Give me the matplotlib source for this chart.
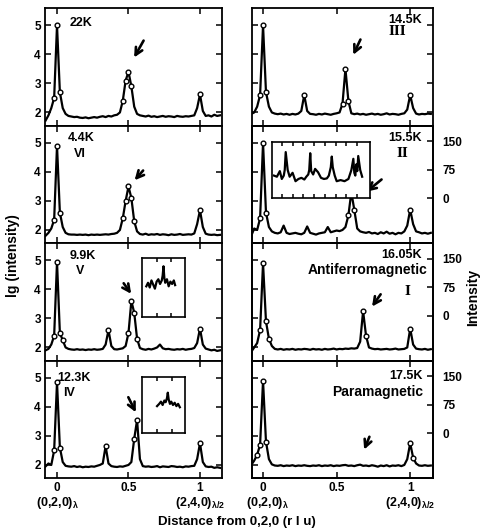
import matplotlib.pyplot as plt
from matplotlib.transforms import blended_transform_factory

plt.rcParams["font.family"] = ["Liberation Sans", "DejaVu Sans"]
plt.rcParams["font.weight"] = "bold"
plt.rcParams["mathtext.default"] = "regular"

# scan positions, distance from (0,2,0) in r.l.u.
dist = [-0.08, -0.06, -0.04, -0.02, 0.00, 0.02, 0.04, 0.06, 0.08, 0.10,
        0.12, 0.14, 0.16, 0.18, 0.20, 0.22, 0.24, 0.26, 0.28, 0.30,
        0.32, 0.34, 0.36, 0.38, 0.40, 0.42, 0.44, 0.46, 0.48, 0.50,
        0.52, 0.54, 0.56, 0.58, 0.60, 0.62, 0.64, 0.66, 0.68, 0.70,
        0.72, 0.74, 0.76, 0.78, 0.80, 0.82, 0.84, 0.86, 0.88, 0.90,
        0.92, 0.94, 0.96, 0.98, 1.00, 1.02, 1.04, 1.06, 1.08, 1.10,
        1.12, 1.14]

# lg(intensity) at each temperature
lg_22 = [1.72, 1.9, 2.15, 2.5, 5.0, 2.7, 2.15, 1.95, 1.88, 1.86,
         1.84, 1.85, 1.82, 1.81, 1.83, 1.8, 1.82, 1.84, 1.82, 1.85,
         1.87, 1.84, 1.88, 1.86, 1.9, 1.92, 2.0, 2.4, 3.1, 3.4,
         2.9, 2.2, 1.95, 1.9, 1.88, 1.86, 1.89, 1.85, 1.87, 1.84,
         1.86, 1.88, 1.85, 1.87, 1.86, 1.84, 1.88, 1.86, 1.85, 1.87,
         1.86, 1.88, 1.9, 2.15, 2.62, 2.05, 1.88, 1.9, 1.86, 1.92,
         1.88, 1.9]
lg_44 = [1.8, 1.9, 2.05, 2.35, 4.9, 2.6, 2.1, 1.9, 1.85, 1.84,
         1.84, 1.83, 1.84, 1.83, 1.84, 1.82, 1.84, 1.83, 1.84, 1.83,
         1.84, 1.85, 1.84, 1.86, 1.87, 1.9, 2.0, 2.4, 3.0, 3.5,
         3.1, 2.3, 1.95, 1.86, 1.84, 1.87, 1.83, 1.85, 1.84, 1.86,
         1.83, 1.85, 1.84, 1.82, 1.85, 1.83, 1.84, 1.86, 1.83, 1.84,
         1.85, 1.84, 1.88, 2.2, 2.68, 2.1, 1.87, 1.84, 1.83, 1.84,
         1.82, 1.83]
lg_99 = [1.9, 1.95, 2.1, 2.4, 4.95, 2.5, 2.25, 2.0, 1.95, 1.93,
         1.92, 1.94, 1.92, 1.93, 1.91, 1.93, 1.92, 1.94, 1.92, 1.93,
         1.95, 2.1, 2.6, 2.05, 1.94, 1.93, 1.95, 1.97, 2.05, 2.5,
         3.6, 3.2, 2.3, 1.98, 1.94, 1.92, 1.95, 1.93, 1.96, 2.0,
         2.1, 1.97, 1.94, 1.95, 1.93, 1.92, 1.94, 1.93, 1.95, 1.92,
         1.94, 1.95, 1.98, 2.15, 2.65, 2.1, 1.96, 1.93, 1.9, 1.92,
         1.88, 1.9]
lg_123 = [1.95, 2.05, 2.0, 2.5, 4.85, 2.6, 2.1, 1.97, 1.95, 1.94,
          1.96, 1.93, 1.95, 1.92, 1.94, 1.93, 1.95, 1.94, 1.97, 2.0,
          2.05, 2.65, 2.05, 1.96, 1.94, 1.93, 1.95, 1.94, 1.97, 2.0,
          2.1, 2.9, 3.55, 2.2, 1.96, 1.94, 1.95, 1.93, 1.94, 1.96,
          1.92, 1.95, 1.94, 1.93, 1.96, 1.95, 1.93, 1.94, 1.92, 1.95,
          1.94, 1.96, 1.97, 2.2, 2.75, 2.1, 1.95, 1.93, 1.94, 1.9,
          1.92, 1.9]
lg_145 = [1.95, 2.0, 2.2, 2.6, 5.0, 2.7, 2.2, 2.0, 1.96, 1.94,
          1.96, 1.93, 1.95, 1.92, 1.95, 1.93, 1.96, 2.05, 2.6, 2.05,
          1.95, 1.94, 1.92, 1.95, 1.93, 1.96, 1.94, 1.92, 1.95, 1.97,
          2.0, 2.3, 3.5, 2.4, 1.97, 1.94, 1.96, 1.93, 1.95, 1.92,
          1.94, 1.96, 1.93, 1.95, 1.92, 1.94, 1.97, 1.93, 1.95, 1.94,
          1.92, 1.95, 1.97, 2.1, 2.6, 2.15, 1.96, 1.93, 1.95, 1.94,
          1.96, 1.95]
lg_155 = [1.8, 2.05, 2.0, 2.4, 5.0, 2.6, 2.1, 1.95, 1.9, 1.88,
          1.92, 2.15, 1.9, 1.86, 1.88, 1.9, 1.87, 1.85, 1.9, 2.12,
          1.9, 1.87, 1.84, 1.88, 1.9, 1.92, 2.1, 1.92, 1.95, 1.98,
          1.96, 2.0, 2.1, 2.5, 3.3, 2.7, 2.05, 1.95, 1.92, 1.9,
          1.93, 1.88, 1.9, 1.86, 1.92, 1.88, 1.94, 1.87, 1.9, 1.85,
          1.9, 1.88, 1.95, 2.15, 2.7, 2.2, 1.95, 1.92, 1.88, 1.9,
          1.87, 1.9]
lg_1605 = [1.85, 2.0, 2.15, 2.6, 4.9, 2.9, 2.3, 2.05, 1.95, 1.93,
           1.95, 1.92, 1.94, 1.93, 1.95, 1.92, 1.94, 1.93, 1.95, 1.94,
           1.92, 1.95, 1.93, 1.94, 1.92, 1.95, 1.93, 1.94, 1.96, 1.93,
           1.95, 1.94, 1.96, 1.95, 1.97, 1.96, 1.98, 2.2, 3.25, 2.4,
           2.0, 1.96, 1.94, 1.95, 1.93, 1.94, 1.95, 1.93, 1.94, 1.96,
           1.93, 1.94, 1.95, 2.0, 2.65, 2.1, 1.96, 1.94, 1.93, 1.95,
           1.92, 1.94]
lg_175 = [2.0, 2.15, 2.35, 2.7, 4.9, 2.8, 2.2, 2.02, 1.98, 1.97,
          1.99, 1.96, 1.98, 1.97, 1.99, 1.96, 1.98, 1.97, 1.99, 1.97,
          1.96, 1.98, 1.97, 1.99, 1.96, 1.98, 1.97, 1.99, 1.96, 1.98,
          1.97, 1.99, 2.0, 1.97, 1.98, 1.96, 1.99, 2.01, 1.97, 1.98,
          1.96, 1.99, 1.97, 1.94, 1.98, 1.96, 1.99, 1.95, 1.98, 1.97,
          1.99, 1.96, 2.0, 2.2, 2.75, 2.25, 2.05, 1.98, 1.97, 1.99,
          1.97, 1.98]

# linear-scale close-ups of the magnetic peaks (counts)
ins99_x = [10, 14, 18, 22, 26, 30, 34, 38, 42, 46, 48, 50, 52, 54, 58, 62, 66, 70, 74, 77]
ins99_y = [52, 58, 50, 62, 55, 48, 60, 64, 56, 62, 70, 86, 66, 58, 64, 52, 60, 56, 62, 54]
ins123_x = [35, 40, 44, 48, 52, 55, 58, 60, 62, 65, 68, 72, 76, 80, 84, 88]
ins123_y = [48, 52, 56, 50, 58, 55, 62, 72, 60, 52, 56, 50, 54, 48, 52, 46]
ins155_x = [2, 5, 8, 10, 12, 13, 14, 16, 18, 21, 24, 27, 30, 33, 35, 37, 38, 39, 40, 42,
            44, 47, 50, 53, 56, 58, 60, 61, 62, 64, 66, 70, 74, 78, 81, 83, 84, 85, 86, 87,
            88, 90, 92]
ins155_y = [40, 38, 48, 34, 40, 50, 82, 50, 38, 45, 30, 34, 36, 33, 38, 42, 50, 80, 48, 42,
            52, 46, 36, 34, 35, 40, 55, 74, 55, 40, 30, 32, 30, 34, 50, 70, 45, 40, 60, 48,
            75, 50, 38]

left_temps = ["22K", "4.4K", "9.9K", "12.3K"]
left_phases = ["", "VI", "V", "IV"]
right_temps = ["14.5K", "15.5K", "16.05K", "17.5K"]
right_phases = ["III", "II", "I", ""]
left_scans = [lg_22, lg_44, lg_99, lg_123]
right_scans = [lg_145, lg_155, lg_1605, lg_175]
lin_ticks = [0, 75, 150]
lin_labels = ["0", "75", "150"]

W, H = 480, 532
fig = plt.figure(figsize=(W / 100, H / 100), dpi=100)


def px_axes(x0, y0, x1, y1):
    return fig.add_axes([x0 / W, 1 - y1 / H, (x1 - x0) / W, (y1 - y0) / H])


def style(ax, lw=1.3):
    for s in ax.spines.values():
        s.set_linewidth(lw)


def draw_scan(ax, lg):
    ax.plot(dist, lg, color="k", lw=1.6, solid_joinstyle="round")
    pk = [(d, v) for d, v in zip(dist, lg) if v > 2.2]
    ax.plot([p[0] for p in pk], [p[1] for p in pk], "o", ms=3.4,
            mfc="white", mec="k", mew=1.0)


def inset(x0, y0, x1, y1, xs, ys, ticks):
    ia = px_axes(x0, y0, x1, y1)
    ia.plot(xs, ys, color="k", lw=1.6)
    ia.set_xlim(0, 100)
    ia.set_ylim(0, 100)
    ia.set_xticks(ticks)
    ia.set_yticks([])
    ia.tick_params(direction="in", length=3, width=1.1, top=True,
                   labelbottom=False)
    style(ia, 1.2)
    return ia


row_h = 117.5
top0 = 8
arrows_left = [((0.615, 4.56), (0.53, 3.81)), ((0.615, 4.12), (0.53, 3.64)),
               ((0.455, 4.29), (0.53, 3.77)), ((0.49, 4.42), (0.56, 3.73))]
arrows_right = [((0.67, 4.6), (0.605, 3.9)), ((0.82, 3.8), (0.69, 3.26)),
                ((0.81, 3.91), (0.73, 3.33)), ((0.73, 3.06), (0.68, 2.44))]
arrow_kw = dict(arrowstyle="->", lw=1.9, color="k", mutation_scale=13)

for i in range(4):
    y0 = top0 + row_h * i
    y1 = y0 + row_h
    last = i == 3

    # left column
    ax = px_axes(45, y0, 222, y1)
    draw_scan(ax, left_scans[i])
    ax.set_xlim(-0.084, 1.154)
    ax.set_ylim(1.55, 5.6)
    ax.set_yticks([2, 3, 4, 5])
    ax.set_xticks([0, 0.5, 1])
    ax.set_xticklabels(["0", "0.5", "1"])
    ax.tick_params(direction="in", length=4, width=1.1, top=True, right=True,
                   labelsize=8.5, labelbottom=last, pad=3)
    style(ax)
    ax.annotate("", xy=arrows_left[i][1], xytext=arrows_left[i][0],
                arrowprops=arrow_kw)
    tx = [0.14, 0.13, 0.14, 0.07][i]
    ty = [0.875, 0.89, 0.89, 0.85][i]
    ax.text(tx, ty, left_temps[i], transform=ax.transAxes, fontsize=9,
            va="center", ha="left")
    if left_phases[i]:
        ax.text(tx + 0.035, ty - 0.13, left_phases[i], transform=ax.transAxes,
                fontsize=9, va="center", ha="left")
    if last:
        tr = blended_transform_factory(ax.transData, ax.transAxes)
        ax.text(0, -0.21, r"(0,2,0)$_\lambda$", transform=tr, fontsize=9,
                ha="center", va="center")
        ax.text(1, -0.21, r"(2,4,0)$_{\lambda/2}$", transform=tr, fontsize=9,
                ha="center", va="center")

    # right column
    ax = px_axes(252, y0, 433, y1)
    draw_scan(ax, right_scans[i])
    ax.set_xlim(-0.075, 1.155)
    ax.set_ylim(1.55, 5.6)
    ax.set_yticks([2, 3, 4, 5])
    ax.set_xticks([0, 0.5, 1])
    ax.set_xticklabels(["0", "0.5", "1"])
    ax.tick_params(direction="in", length=4, width=1.1, top=True,
                   right=(i == 0), labelleft=False, labelsize=8.5,
                   labelbottom=last, pad=3)
    style(ax)
    if i > 0:
        tw = ax.twinx()
        tw.set_ylim(-118, 191)
        tw.set_yticks(lin_ticks)
        tw.set_yticklabels(lin_labels)
        tw.tick_params(direction="in", length=4, width=1.1, labelsize=8.5,
                       pad=7)
        style(tw)
    ax.annotate("", xy=arrows_right[i][1], xytext=arrows_right[i][0],
                arrowprops=arrow_kw)
    ax.text(0.94, 0.895 if i < 3 else 0.87, right_temps[i],
            transform=ax.transAxes, fontsize=9, va="center", ha="right")
    if i == 2:
        ax.text(0.967, 0.77, "Antiferromagnetic", transform=ax.transAxes,
                fontsize=10, va="center", ha="right")
        ax.text(0.857, 0.59, "I", transform=ax.transAxes, fontsize=9,
                va="center", ha="center", family="DejaVu Serif")
    elif i == 3:
        ax.text(0.945, 0.73, "Paramagnetic", transform=ax.transAxes,
                fontsize=10, va="center", ha="right")
    else:
        ax.text([0.8, 0.83][i], [0.8, 0.76][i], right_phases[i],
                transform=ax.transAxes, fontsize=9, va="center", ha="center",
                family="DejaVu Serif")
    if last:
        tr = blended_transform_factory(ax.transData, ax.transAxes)
        ax.text(0.03, -0.21, r"(0,2,0)$_\lambda$", transform=tr, fontsize=9,
                ha="center", va="center")
        ax.text(1.0, -0.21, r"(2,4,0)$_{\lambda/2}$", transform=tr,
                fontsize=9, ha="center", va="center")

# close-ups drawn over the scans
inset(142, 258, 185, 317, ins99_x, ins99_y, [35, 68])
inset(142, 377, 185, 433, ins123_x, ins123_y, [35, 70])
inset(272, 142, 370, 198, ins155_x, ins155_y,
      [10, 21, 32, 43, 54, 65, 76, 87])

fig.text(0.027, 0.52, "lg (intensity)", rotation=90, fontsize=10,
         ha="center", va="center")
fig.text(0.986, 0.44, "Intensity", rotation=90, fontsize=10,
         ha="center", va="center")
fig.text(0.494, 0.019, "Distance from 0,2,0 (r l u)", fontsize=9.5,
         ha="center", va="center")

fig.savefig("out.png", dpi=100, facecolor="white")
